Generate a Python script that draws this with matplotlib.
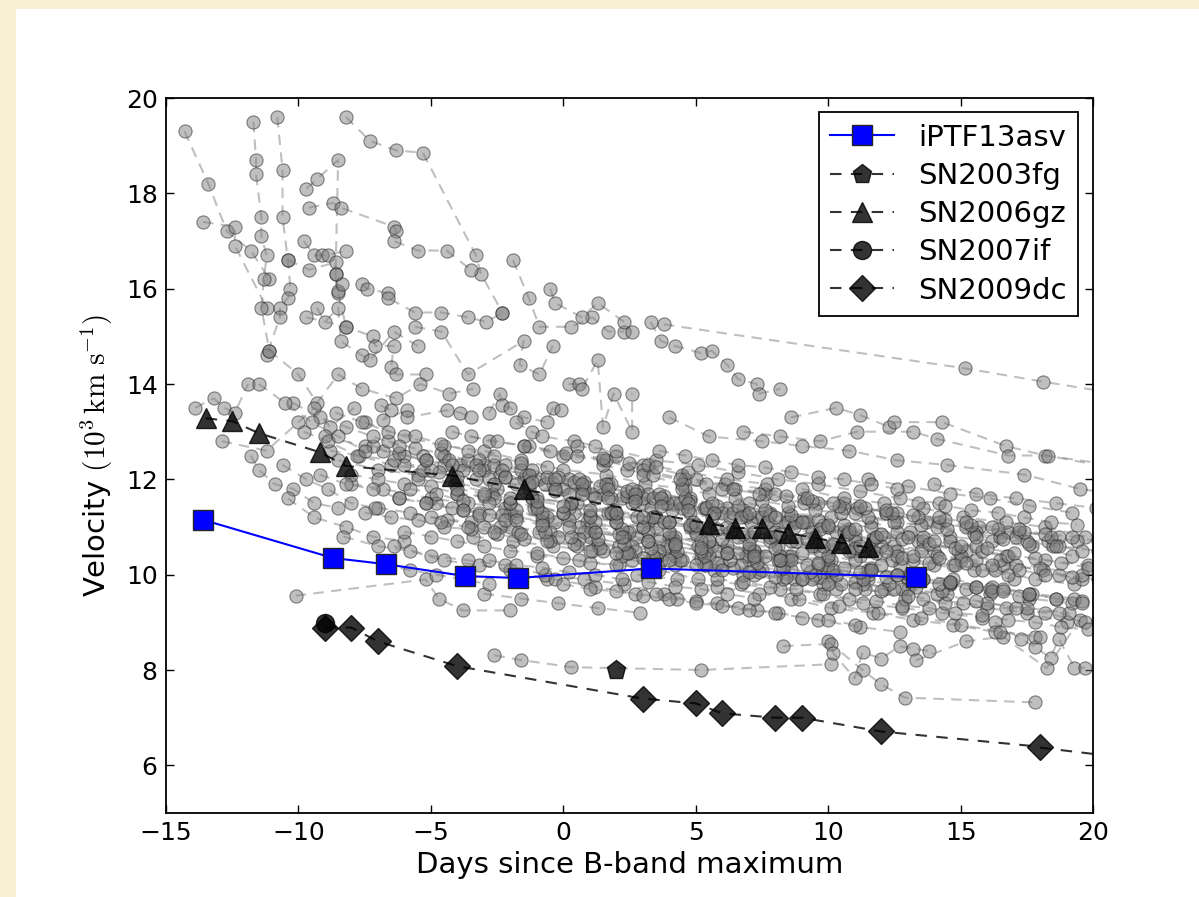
import numpy as np
import matplotlib
matplotlib.use("Agg")
import matplotlib.pyplot as plt
from matplotlib.patches import Rectangle

plt.rcParams['font.family'] = ['DejaVu Sans']
plt.rcParams['mathtext.fontset'] = 'cm'

# ---------------- highlighted objects ----------------
ptf_days = [-13.6, -8.7, -6.7, -3.7, -1.7, 3.3, 13.3]
ptf_vel = [11.15, 10.35, 10.22, 9.97, 9.93, 10.13, 9.95]

fg03_days = [2.0]
fg03_vel = [8.0]

gz06_days = [-13.5, -12.5, -11.5, -9.2, -8.2, -4.2, -1.5, 5.5, 6.5, 7.5, 8.5, 9.5, 10.5, 11.5]
gz06_vel = [13.28, 13.22, 12.97, 12.57, 12.28, 12.08, 11.79, 11.07, 10.98, 10.98, 10.87, 10.77, 10.67, 10.57]

if07_days = [-9.0]
if07_vel = [8.98]

dc09_days = [-9.0, -8.0, -7.0, -4.0, 3.0, 5.0, 6.0, 8.0, 9.0, 12.0, 18.0]
dc09_vel = [8.89, 8.89, 8.60, 8.08, 7.40, 7.30, 7.09, 7.00, 7.00, 6.71, 6.39]

# ---------------- comparison sample (grey) ----------------
gray_days = [
    [-14.3, -13.4, -12.7, -11.8, -11.1],
    [-13.6, -12.4, -12.4, -11.2],
    [-11.7, -11.6, -11.6, -11.4, -11.4, -11.2, -11.3, -11.4, -11.1],
    [-10.8, -10.6, -10.6, -10.4, -10.3, -10.4, -10.7, -10.7, -11.2],
    [-8.2, -7.3, -6.3, -5.3, -3.3, -3.1, -2.3],
    [-9.7, -9.3, -8.5, -8.6, -8.5, -8.2],
    [-9.6, -8.7, -8.4, -6.4, -6.3, -6.4, -5.5, -4.4, -3.5],
    [-1.9, -1.3, -0.9, 0.3, 1.1, 1.7, 2.3],
    [-0.5, -0.3, 0.7, 1.3, 2.3, 2.6],
    [3.3, 3.7, 4.2, 5.2, 5.6, 6.2, 6.6, 7.3, 7.4, 8.2],
    [3.8, 15.15, 18.1, 22.0],
    [-9.8, -9.4, -9.1, -8.9, -8.2],
    [-10.4, -9.6, -8.6, -8.6, -8.5, -8.35],
    [-7.6, -7.4, -6.6, -6.6, -5.6, -4.6, -3.6, -2.9, -2.3],
    [-9.3, -9.0, -8.5, -8.4, -7.6, -7.3, -6.4, -5.5],
    [-9.7, -8.2, -7.2, -7.1, -6.4, -6.5, -6.3, -5.2],
    [-5.6, -4.6, -3.6, -1.5, -1.65, -0.9, -0.4],
    [-11.1, -10.0, -9.3, -8.5, -7.6, -6.3, -5.4, -4.3, -3.4],
    [-13.9, -13.2, -12.8, -12.4, -11.9],
    [-12.9, -11.2, -10.0, -9.4, -8.8, -7.9],
    [-6.9, -6.5, -6.8, -5.9, -5.9, -4.4, -3.9, -3.5],
    [-2.8, -2.4, -2.3, -2.0, -1.5, -0.6, -0.4, -0.1],
    [0.2, 0.6, 0.7, 1.3, 1.5, 1.9, 2.6, 2.6],
    [-1.8, -1.2, -0.8, 0.4, 1.2, 2.0, 3.0, 4.5],
    [8.6, 10.3, 11.2, 12.3, 12.5, 14.3, 16.7, 18.2, 22.0],
    [6.8, 8.2, 9.7, 11.1, 13.2, 14.1, 16.8, 18.3, 22.0],
    [4.0, 5.5, 7.5, 9.0, 10.8, 12.6, 14.5, 17.4, 19.5, 22.0],
    [-10.1, -5.2, -4.7, -3.8, -2.0],
    [-2.6, -1.6, 0.3, 5.2, 10.1],
    [10.0, 11.3, 12.0, 12.9, 17.8],
    [8.3, 10.1, 10.2, 11.0, 11.3, 12.0, 12.7, 13.2, 13.8],
    [16.3, 17.3, 17.8, 18.4, 18.7, 19.3, 19.7],
    [13.3, 15.2, 16.6, 18.25, 19.5],
    [-9.0, -7.5, -6.0, -4.5, -3.0, -1.5, 0.0, 1.5, 3.0],
    [-8.5, -7.0, -5.5, -4.0, -2.5, -1.0, 0.5, 2.0, 3.5, 5.0],
    [-8.0, -6.8, -5.0, -3.6, -2.2, -0.8, 0.9, 2.4, 4.1, 5.6, 7.2],
    [-7.5, -6.0, -4.5, -3.0, -1.6, 0.0, 1.6, 3.1, 4.6],
    [-6.8, -5.2, -3.9, -2.4, -0.9, 0.7, 2.2, 3.8, 5.3, 6.9, 8.4],
    [-6.2, -4.8, -3.2, -1.8, -0.3, 1.2, 2.8, 4.2, 5.8, 7.3],
    [-5.5, -4.1, -2.7, -1.2, 0.3, 1.8, 3.4, 4.9, 6.4, 8.0, 9.5],
    [-5.0, -3.5, -2.0, -0.5, 1.0, 2.6, 4.0, 5.5, 7.0, 8.6, 10.1, 11.5],
    [-4.5, -3.0, -1.4, 0.2, 1.7, 3.2, 4.8, 6.2, 7.8, 9.2],
    [-4.0, -2.6, -1.1, 0.4, 2.0, 3.5, 5.0, 6.6, 8.1, 9.7, 11.2, 12.7],
    [-3.4, -1.9, -0.4, 1.1, 2.6, 4.2, 5.7, 7.2, 8.7, 10.3],
    [-2.8, -1.3, 0.2, 1.8, 3.3, 4.8, 6.3, 7.9, 9.4, 11.0, 12.5, 14.0],
    [-2.0, -0.6, 1.0, 2.5, 4.0, 5.5, 7.0, 8.5, 10.0, 11.6, 13.1],
    [-1.5, 0.0, 1.5, 3.0, 4.6, 6.1, 7.6, 9.1, 10.6, 12.2],
    [-1.0, 0.6, 2.1, 3.6, 5.1, 6.7, 8.2, 9.7, 11.3, 12.8, 14.3, 15.8],
    [-0.4, 1.1, 2.7, 4.2, 5.7, 7.3, 8.8, 10.3, 11.8, 13.4, 14.9],
    [0.2, 1.7, 3.2, 4.8, 6.3, 7.8, 9.4, 10.9, 12.4, 14.0, 15.5, 17.0],
    [0.8, 2.3, 3.9, 5.4, 6.9, 8.5, 10.0, 11.5, 13.0, 14.6, 16.1],
    [1.5, 3.0, 4.5, 6.0, 7.6, 9.1, 10.6, 12.2, 13.7, 15.2, 16.8, 18.3],
    [2.2, 3.7, 5.3, 6.8, 8.3, 9.8, 11.4, 12.9, 14.4, 16.0, 17.5, 19.0],
    [3.0, 4.5, 6.0, 7.5, 9.1, 10.6, 12.1, 13.6, 15.2, 16.7, 18.2, 19.8],
    [4.0, 5.5, 7.1, 8.6, 10.1, 11.7, 13.2, 14.7, 16.3, 17.8, 19.3],
    [5.0, 6.5, 8.0, 9.6, 11.1, 12.6, 14.2, 15.7, 17.2, 18.7],
    [6.0, 7.5, 9.0, 10.5, 12.1, 13.6, 15.1, 16.7, 18.2, 19.7],
    [7.0, 8.5, 10.1, 11.6, 13.1, 14.6, 16.2, 17.7, 19.2],
    [8.0, 9.5, 11.0, 12.6, 14.1, 15.6, 17.1, 18.7, 20.2],
    [9.0, 10.6, 12.1, 13.6, 15.1, 16.7, 18.2, 19.7],
    [10.0, 11.5, 13.0, 14.6, 16.1, 17.6, 19.2],
    [11.0, 12.6, 14.1, 15.6, 17.1, 18.7, 20.2],
    [12.0, 13.5, 15.0, 16.6, 18.1, 19.6],
    [13.0, 14.5, 16.0, 17.5, 19.1],
    [14.0, 15.6, 17.1, 18.6, 20.1],
    [-7.0, -5.8, -4.4, -3.0, -1.7, -0.2, 1.3, 2.7, 4.2, 5.8],
    [-6.0, -4.7, -3.3, -1.8, -0.3, 1.2, 2.6, 4.1, 5.6, 7.1],
    [-5.2, -3.8, -2.3, -0.8, 0.6, 2.1, 3.6, 5.1, 6.6, 8.1, 9.6],
    [-3.8, -2.2, -0.7, 0.8, 2.4, 3.9, 5.4, 6.9, 8.5, 10.0],
    [-2.4, -0.9, 0.6, 2.1, 3.6, 5.2, 6.7, 8.2, 9.7, 11.3, 12.8],
    [-1.2, 0.3, 1.9, 3.4, 4.9, 6.4, 8.0, 9.5, 11.0, 12.6],
    [-8.8, -7.7, -6.5, -5.3, -4.0, -2.6],
    [-9.8, -8.9, -7.8, -6.4, -5.0],
    [-10.6, -9.7, -8.9, -8.0, -7.1],
    [-11.8, -11.5, -10.9, -10.2, -9.4, -8.5],
    [-10.4, -9.4, -8.2, -7.2, -6.0],
    [-8.3, -7.0, -5.8, -4.5, -3.2, -2.0, -0.6],
    [-6.4, -5.0, -3.6, -2.2, -0.7, 0.8, 2.3, 3.8],
    [-1.7, -0.3, 1.2, 2.7, 4.3, 5.8, 7.3],
    [3.5, 5.0, 6.6, 8.1, 9.6, 11.2, 12.7],
    [8.6, 10.1, 11.7, 13.2, 14.7, 16.3, 17.8],
    [-4.2, -2.8, -1.3, 0.1, 1.6, 3.2, 4.7, 6.2, 7.7],
    [0.5, 2.0, 3.5, 5.1, 6.6, 8.1, 9.6, 11.2, 12.7, 14.2],
    [2.8, 4.3, 5.8, 7.4, 8.9, 10.4, 11.9, 13.5, 15.0, 16.5, 18.0],
    [5.5, 7.0, 8.6, 10.1, 11.6, 13.1, 14.7, 16.2, 17.7, 19.3],
    [9.5, 11.0, 12.5, 14.1, 15.6, 17.1, 18.7, 20.2],
    [11.5, 13.0, 14.6, 16.1, 17.6, 19.2],
    [15.0, 16.5, 18.0, 19.6],
    [-3.0, -1.6, -0.2, 1.3, 2.9],
    # densely sampled objects
    [-8, -7, -6, -5, -4, -3, -2, -1, 0, 1, 2, 3],
    [-7.5, -6.5, -5.5, -4.5, -3.5, -2.5, -1.5, -0.5, 0.5, 1.5, 2.5, 3.5, 4.5],
    [-6.6, -5.6, -4.6, -3.6, -2.6, -1.6, -0.6, 0.4, 1.4, 2.4, 3.4, 4.4, 5.4, 6.4],
    [-5.8, -4.8, -3.8, -2.8, -1.8, -0.8, 0.2, 1.2, 2.2, 3.2, 4.2, 5.2, 6.2, 7.2, 8.2],
    [-4.6, -3.6, -2.6, -1.6, -0.6, 0.4, 1.4, 2.4, 3.4, 4.4, 5.4, 6.4, 7.4, 8.4, 9.4],
    [-3.2, -2.2, -1.2, -0.2, 0.8, 1.8, 2.8, 3.8, 4.8, 5.8, 6.8, 7.8, 8.8, 9.8, 10.8],
    [-2.0, -1.0, 0.0, 1.0, 2.0, 3.0, 4.0, 5.0, 6.0, 7.0, 8.0, 9.0, 10.0, 11.0, 12.0],
    [-0.7, 0.3, 1.3, 2.3, 3.3, 4.3, 5.3, 6.3, 7.3, 8.3, 9.3, 10.3, 11.3, 12.3, 13.3, 14.3],
    [0.6, 1.6, 2.6, 3.6, 4.6, 5.6, 6.6, 7.6, 8.6, 9.6, 10.6, 11.6, 12.6, 13.6, 14.6, 15.6],
    [1.8, 2.8, 3.8, 4.8, 5.8, 6.8, 7.8, 8.8, 9.8, 10.8, 11.8, 12.8, 13.8, 14.8, 15.8, 16.8],
    [3.2, 4.2, 5.2, 6.2, 7.2, 8.2, 9.2, 10.2, 11.2, 12.2, 13.2, 14.2, 15.2, 16.2, 17.2],
    [4.5, 5.5, 6.5, 7.5, 8.5, 9.5, 10.5, 11.5, 12.5, 13.5, 14.5, 15.5, 16.5, 17.5, 18.5],
    [6.2, 7.2, 8.2, 9.2, 10.2, 11.2, 12.2, 13.2, 14.2, 15.2, 16.2, 17.2, 18.2, 19.2],
    [7.6, 8.6, 9.6, 10.6, 11.6, 12.6, 13.6, 14.6, 15.6, 16.6, 17.6, 18.6, 19.6],
    [-9.2, -8.2, -7.2, -6.2, -5.2, -4.2, -3.2, -2.2],
    [-8.6, -7.6, -6.6, -5.6, -4.6, -3.6, -2.6, -1.6, -0.6],
    [-5.3, -4.3, -3.3, -2.3, -1.3, -0.3, 0.7, 1.7, 2.7, 3.7, 4.7],
    [-3.8, -2.8, -1.8, -0.8, 0.2, 1.2, 2.2, 3.2, 4.2, 5.2, 6.2, 7.2, 8.2],
    [-1.3, -0.3, 0.7, 1.7, 2.7, 3.7, 4.7, 5.7, 6.7, 7.7, 8.7, 9.7, 10.7, 11.7],
    [2.4, 3.4, 4.4, 5.4, 6.4, 7.4, 8.4, 9.4, 10.4, 11.4, 12.4, 13.4, 14.4, 15.4, 16.4, 17.4, 18.4, 19.4],
    [5.8, 6.8, 7.8, 8.8, 9.8, 10.8, 11.8, 12.8, 13.8, 14.8, 15.8, 16.8, 17.8, 18.8, 19.8],
    [9.2, 10.2, 11.2, 12.2, 13.2, 14.2, 15.2, 16.2, 17.2, 18.2, 19.2, 20.2],
    [10.8, 11.8, 12.8, 13.8, 14.8, 15.8, 16.8, 17.8, 18.8, 19.8],
    [12.6, 13.6, 14.6, 15.6, 16.6, 17.6, 18.6, 19.6],
    [-6.0, -5.0, -4.0, -3.0, -2.0, -1.0, 0.0, 1.0, 2.0],
    [-2.8, -1.8, -0.8, 0.2, 1.2, 2.2, 3.2, 4.2, 5.2, 6.2, 7.2],
    [0.0, 1.0, 2.0, 3.0, 4.0, 5.0, 6.0, 7.0, 8.0, 9.0, 10.0, 11.0],
    [-7.2, -6.2, -5.2, -4.2, -3.2, -2.2, -1.2],
    [-10.2, -9.2, -8.2, -7.2, -6.2],
    [-11.5, -10.5, -9.5, -8.5, -7.5],
    [-3.5, -2.5, -1.5, -0.5, 0.5, 1.5, 2.5, 3.5],
    [3.6, 4.6, 5.6, 6.6, 7.6, 8.6, 9.6, 10.6, 11.6, 12.6],
    [13.4, 14.4, 15.4, 16.4, 17.4, 18.4, 19.4],
    [15.6, 16.6, 17.6, 18.6, 19.6],
    [-4.0, -3.0, -2.0, -1.0, 0.0, 1.0, 2.0, 3.0, 4.0, 5.0],
    [1.0, 2.0, 3.0, 4.0, 5.0, 6.0, 7.0, 8.0, 9.0, 10.0, 11.0, 12.0, 13.0],
    [7.0, 8.0, 9.0, 10.0, 11.0, 12.0, 13.0, 14.0, 15.0, 16.0, 17.0],
    [-6.8, -5.8, -4.8, -3.8, -2.8],
]
gray_vel = [
    [19.3, 18.2, 17.2, 16.8, 16.2],
    [17.4, 17.3, 16.9, 15.6],
    [19.5, 18.7, 18.4, 17.5, 17.1, 16.7, 16.2, 15.6, 14.7],
    [19.6, 18.5, 17.5, 16.6, 16.0, 15.8, 15.6, 15.4, 14.6],
    [19.6, 19.1, 18.9, 18.85, 16.7, 16.3, 15.5],
    [18.1, 18.3, 18.7, 16.3, 15.9, 15.2],
    [17.7, 17.8, 17.7, 17.3, 17.2, 17.0, 16.8, 16.8, 16.4],
    [16.6, 15.8, 15.2, 15.2, 15.4, 15.1, 15.1],
    [16.0, 15.7, 15.4, 15.7, 15.3, 15.1],
    [15.3, 14.9, 14.8, 14.65, 14.7, 14.4, 14.1, 14.0, 13.8, 13.9],
    [15.25, 14.33, 14.05, 13.7],
    [17.0, 16.7, 16.7, 16.7, 16.8],
    [16.6, 16.4, 16.55, 16.3, 15.95, 16.1],
    [16.1, 16.0, 15.9, 15.8, 15.5, 15.5, 15.4, 15.3, 15.5],
    [15.6, 15.3, 15.6, 14.9, 14.6, 14.5, 15.1, 14.8],
    [15.4, 15.2, 15.0, 14.8, 14.8, 14.35, 14.2, 14.2],
    [15.2, 15.1, 14.2, 14.9, 14.4, 14.2, 14.8],
    [14.7, 14.2, 13.6, 14.2, 13.9, 13.7, 14.0, 13.8, 13.9],
    [13.5, 13.7, 13.5, 13.4, 14.0],
    [12.8, 12.6, 13.2, 13.5, 13.1, 13.5],
    [13.55, 13.45, 13.25, 13.45, 13.3, 13.45, 13.4, 13.3],
    [13.4, 13.8, 13.55, 13.5, 13.3, 13.2, 13.5, 13.45],
    [14.0, 14.0, 13.9, 14.5, 13.1, 13.8, 13.0, 13.8],
    [13.2, 13.0, 12.9, 12.8, 12.7, 12.5, 12.3, 12.1],
    [13.3, 13.5, 13.35, 13.1, 13.2, 13.2, 12.7, 12.5, 12.2],
    [13.0, 12.9, 12.8, 13.0, 13.0, 12.85, 12.5, 12.5, 12.1],
    [13.3, 12.9, 12.8, 12.7, 12.6, 12.4, 12.3, 12.1, 11.8, 11.6],
    [9.56, 9.9, 9.5, 9.25, 9.25],
    [8.31, 8.21, 8.06, 8.0, 8.12],
    [8.6, 8.0, 7.7, 7.42, 7.32],
    [8.5, 8.55, 8.35, 7.83, 8.37, 8.24, 8.5, 8.45, 8.4],
    [9.0, 8.64, 8.49, 8.25, 8.66, 8.05, 8.05],
    [8.2, 8.6, 8.7, 8.04, 9.05],
    [12.9, 12.7, 12.5, 12.3, 12.2, 12.0, 11.8, 11.7, 11.5],
    [12.4, 12.2, 12.1, 11.9, 11.8, 11.6, 11.5, 11.3, 11.2, 11.0],
    [11.9, 11.8, 11.6, 11.5, 11.4, 11.2, 11.1, 10.9, 10.8, 10.6, 10.5],
    [13.2, 12.9, 12.7, 12.6, 12.4, 12.2, 12.1, 11.9, 11.8],
    [12.6, 12.4, 12.3, 12.1, 12.0, 11.8, 11.6, 11.5, 11.4, 11.2, 11.1],
    [11.6, 11.5, 11.3, 11.2, 11.1, 10.9, 10.8, 10.7, 10.5, 10.4],
    [12.0, 11.9, 11.7, 11.6, 11.5, 11.3, 11.2, 11.0, 10.9, 10.8, 10.6],
    [11.2, 11.1, 11.0, 10.9, 10.8, 10.6, 10.5, 10.4, 10.3, 10.1, 10.0, 9.9],
    [12.5, 12.3, 12.1, 12.0, 11.9, 11.7, 11.6, 11.4, 11.3, 11.1],
    [11.7, 11.6, 11.4, 11.3, 11.2, 11.0, 10.9, 10.8, 10.6, 10.5, 10.4, 10.2],
    [10.8, 10.7, 10.6, 10.5, 10.3, 10.2, 10.1, 10.0, 9.9, 9.7],
    [12.0, 11.8, 11.7, 11.6, 11.4, 11.3, 11.2, 11.0, 10.9, 10.8, 10.6, 10.5],
    [11.3, 11.2, 11.0, 10.9, 10.8, 10.7, 10.5, 10.4, 10.3, 10.1, 10.0],
    [12.7, 12.5, 12.4, 12.2, 12.0, 11.9, 11.8, 11.6, 11.5, 11.3],
    [10.4, 10.3, 10.2, 10.1, 9.9, 9.8, 9.7, 9.6, 9.4, 9.3, 9.2, 9.1],
    [11.9, 11.7, 11.6, 11.5, 11.3, 11.2, 11.1, 10.9, 10.8, 10.7, 10.5],
    [11.4, 11.3, 11.1, 11.0, 10.9, 10.7, 10.6, 10.5, 10.3, 10.2, 10.1, 9.9],
    [10.9, 10.8, 10.6, 10.5, 10.4, 10.3, 10.1, 10.0, 9.9, 9.8, 9.6],
    [12.3, 12.1, 11.9, 11.8, 11.7, 11.5, 11.4, 11.3, 11.1, 11.0, 10.9, 10.7],
    [10.4, 10.3, 10.2, 10.0, 9.9, 9.8, 9.7, 9.5, 9.4, 9.3, 9.2, 9.0],
    [11.6, 11.4, 11.3, 11.2, 11.1, 10.9, 10.8, 10.7, 10.5, 10.4, 10.3, 10.2],
    [11.1, 11.0, 10.8, 10.7, 10.6, 10.5, 10.3, 10.2, 10.1, 9.9, 9.8],
    [12.0, 11.8, 11.7, 11.5, 11.4, 11.3, 11.1, 11.0, 10.9, 10.8],
    [10.2, 10.1, 9.9, 9.8, 9.7, 9.5, 9.4, 9.3, 9.2, 9.0],
    [11.5, 11.3, 11.2, 11.1, 10.9, 10.8, 10.7, 10.6, 10.4],
    [10.9, 10.8, 10.7, 10.5, 10.4, 10.3, 10.2, 10.0, 9.9],
    [11.8, 11.6, 11.5, 11.4, 11.2, 11.1, 11.0, 10.8],
    [10.2, 10.1, 9.9, 9.8, 9.7, 9.5, 9.4],
    [11.3, 11.1, 11.0, 10.9, 10.8, 10.6, 10.5],
    [10.6, 10.5, 10.3, 10.2, 10.1, 9.9],
    [9.7, 9.6, 9.4, 9.3, 9.2],
    [11.9, 11.7, 11.6, 11.5, 11.4],
    [11.4, 11.3, 11.15, 11.0, 10.9, 10.8, 10.65, 10.5, 10.4, 10.25],
    [12.3, 12.15, 12.0, 11.9, 11.75, 11.6, 11.5, 11.35, 11.2, 11.1],
    [11.5, 11.35, 11.25, 11.1, 11.0, 10.85, 10.7, 10.6, 10.45, 10.3, 10.2],
    [12.2, 12.05, 11.9, 11.8, 11.65, 11.5, 11.4, 11.25, 11.1, 11.0],
    [11.0, 10.9, 10.75, 10.6, 10.5, 10.35, 10.2, 10.1, 9.95, 9.8, 9.7],
    [11.6, 11.5, 11.35, 11.2, 11.1, 10.95, 10.8, 10.7, 10.55, 10.4],
    [12.6, 12.5, 12.3, 12.2, 12.05, 11.9],
    [13.0, 12.8, 12.5, 12.4, 12.2],
    [12.3, 12.0, 11.8, 11.5, 11.4],
    [12.5, 12.2, 11.9, 11.8, 11.5, 11.4],
    [11.6, 11.2, 11.0, 10.8, 10.7],
    [10.8, 10.6, 10.5, 10.3, 10.2, 10.1, 9.9],
    [10.6, 10.4, 10.3, 10.2, 10.0, 9.9, 9.8, 9.6],
    [10.0, 9.9, 9.75, 9.6, 9.5, 9.4, 9.25],
    [9.6, 9.45, 9.3, 9.2, 9.05, 8.9, 8.8],
    [9.5, 9.3, 9.2, 9.05, 8.95, 8.8, 8.7],
    [13.0, 12.8, 12.7, 12.55, 12.4, 12.3, 12.15, 12.0, 11.9],
    [12.7, 12.6, 12.4, 12.3, 12.15, 12.0, 11.9, 11.75, 11.6, 11.5],
    [10.0, 9.9, 9.75, 9.6, 9.5, 9.35, 9.2, 9.1, 8.95, 8.8, 8.7],
    [10.7, 10.55, 10.4, 10.3, 10.15, 10.0, 9.9, 9.75, 9.6, 9.5],
    [10.0, 9.85, 9.7, 9.6, 9.45, 9.3, 9.2, 9.05],
    [12.0, 11.85, 11.7, 11.6, 11.45, 11.3],
    [10.4, 10.3, 10.15, 10.0],
    [9.6, 9.5, 9.4, 9.3, 9.2],
    # densely sampled objects
    [12.1, 12.0, 11.9, 11.85, 11.7, 11.65, 11.5, 11.45, 11.3, 11.25, 11.1, 11.0],
    [11.3, 11.2, 11.15, 11.0, 10.95, 10.85, 10.75, 10.7, 10.6, 10.5, 10.45, 10.35, 10.3],
    [12.8, 12.65, 12.55, 12.4, 12.3, 12.2, 12.05, 11.95, 11.85, 11.75, 11.6, 11.5, 11.4, 11.3],
    [11.8, 11.7, 11.55, 11.5, 11.35, 11.3, 11.15, 11.1, 10.95, 10.9, 10.8, 10.7, 10.6, 10.5, 10.4],
    [11.1, 11.0, 10.9, 10.85, 10.7, 10.65, 10.55, 10.45, 10.4, 10.3, 10.2, 10.15, 10.05, 9.95, 9.9],
    [12.4, 12.3, 12.2, 12.05, 11.95, 11.9, 11.75, 11.65, 11.55, 11.45, 11.35, 11.25, 11.15, 11.05, 10.95],
    [11.5, 11.4, 11.3, 11.2, 11.1, 11.0, 10.9, 10.85, 10.75, 10.65, 10.55, 10.45, 10.4, 10.3, 10.2],
    [10.9, 10.8, 10.75, 10.65, 10.55, 10.5, 10.4, 10.3, 10.25, 10.15, 10.05, 10.0, 9.9, 9.8, 9.75, 9.65],
    [12.0, 11.9, 11.8, 11.7, 11.6, 11.5, 11.45, 11.35, 11.25, 11.15, 11.05, 11.0, 10.9, 10.8, 10.7, 10.6],
    [11.3, 11.2, 11.1, 11.05, 10.95, 10.85, 10.8, 10.7, 10.6, 10.5, 10.45, 10.35, 10.25, 10.2, 10.1, 10.0],
    [10.7, 10.6, 10.5, 10.45, 10.35, 10.3, 10.2, 10.1, 10.05, 9.95, 9.9, 9.8, 9.7, 9.65, 9.55],
    [11.8, 11.7, 11.6, 11.55, 11.45, 11.35, 11.3, 11.2, 11.1, 11.05, 10.95, 10.85, 10.8, 10.7, 10.6],
    [11.0, 10.9, 10.85, 10.75, 10.65, 10.6, 10.5, 10.4, 10.35, 10.25, 10.2, 10.1, 10.0, 9.95],
    [10.4, 10.3, 10.25, 10.15, 10.1, 10.0, 9.9, 9.85, 9.75, 9.7, 9.6, 9.5, 9.45],
    [12.1, 11.9, 11.8, 11.6, 11.5, 11.4, 11.25, 11.15],
    [13.4, 13.2, 13.0, 12.9, 12.75, 12.6, 12.5, 12.35, 12.25],
    [12.5, 12.4, 12.3, 12.2, 12.1, 12.0, 11.9, 11.8, 11.7, 11.6, 11.5],
    [11.35, 11.25, 11.15, 11.05, 11.0, 10.9, 10.8, 10.7, 10.65, 10.55, 10.45, 10.4, 10.3],
    [11.9, 11.8, 11.7, 11.6, 11.55, 11.45, 11.35, 11.3, 11.2, 11.1, 11.0, 10.95, 10.85, 10.75],
    [12.2, 12.1, 12.0, 11.9, 11.8, 11.7, 11.65, 11.55, 11.45, 11.4, 11.3, 11.2, 11.15, 11.05, 10.95, 10.9, 10.8, 10.7],
    [9.9, 9.85, 9.75, 9.7, 9.6, 9.5, 9.45, 9.35, 9.3, 9.2, 9.15, 9.05, 9.0, 8.9, 8.85],
    [11.6, 11.5, 11.45, 11.35, 11.25, 11.2, 11.1, 11.0, 10.95, 10.85, 10.8, 10.7],
    [10.9, 10.8, 10.75, 10.65, 10.55, 10.5, 10.4, 10.35, 10.25, 10.15],
    [10.0, 9.9, 9.85, 9.75, 9.65, 9.6, 9.5, 9.4],
    [10.9, 10.8, 10.7, 10.6, 10.5, 10.45, 10.35, 10.25, 10.2],
    [10.3, 10.2, 10.15, 10.05, 10.0, 9.9, 9.85, 9.75, 9.7, 9.6, 9.5],
    [9.8, 9.7, 9.65, 9.55, 9.5, 9.4, 9.35, 9.25, 9.2, 9.1, 9.05, 8.95],
    [12.7, 12.55, 12.4, 12.3, 12.2, 12.05, 11.95],
    [13.6, 13.3, 13.1, 12.9, 12.7],
    [14.0, 13.6, 13.2, 12.9, 12.6],
    [12.9, 12.8, 12.7, 12.6, 12.5, 12.45, 12.35, 12.25],
    [12.6, 12.5, 12.4, 12.3, 12.25, 12.15, 12.05, 12.0, 11.9, 11.8],
    [11.5, 11.45, 11.35, 11.3, 11.2, 11.1, 11.05],
    [10.8, 10.75, 10.65, 10.6, 10.5],
    [11.8, 11.7, 11.6, 11.55, 11.45, 11.35, 11.3, 11.2, 11.1, 11.05],
    [10.5, 10.45, 10.35, 10.3, 10.2, 10.1, 10.05, 9.95, 9.9, 9.8, 9.7, 9.65, 9.55],
    [11.3, 11.2, 11.1, 11.05, 10.95, 10.85, 10.8, 10.7, 10.6, 10.55, 10.45],
    [10.2, 10.1, 10.0, 9.9, 9.8],
]

x_ticks = [-15, -10, -5, 0, 5, 10, 15, 20]
y_ticks = [6, 8, 10, 12, 14, 16, 18, 20]

# ---------------- figure ----------------
W, H = 1199, 897
fig = plt.figure(figsize=(W / 100, H / 100), dpi=100, facecolor='white')
cream = '#F9EFD5'
fig.add_artist(Rectangle((0, 0), 16 / W, 1, transform=fig.transFigure,
                         facecolor=cream, edgecolor='none', zorder=-10))
fig.add_artist(Rectangle((0, 1 - 9 / H), 1, 9 / H, transform=fig.transFigure,
                         facecolor=cream, edgecolor='none', zorder=-10))

ax = fig.add_axes([166 / W, 1 - 813 / H, (1093 - 166) / W, (813 - 98) / H])

for d, v in zip(gray_days, gray_vel):
    ax.plot(d, v, linestyle='--', dashes=(5, 3.5), color='0.5', lw=1.5,
            marker='o', ms=9.5, mfc='0.5', mec='0.1', mew=0.8, alpha=0.5,
            zorder=2)

dk = dict(linestyle='--', dashes=(5.5, 4.5), color='k', lw=1.5, alpha=0.8)
ax.plot(gz06_days, gz06_vel, marker='^', ms=14, zorder=5, label='SN2006gz', **dk)
ax.plot(fg03_days, fg03_vel, marker='p', ms=14, zorder=5, label='SN2003fg', **dk)
# extension of the SN2009dc trend to the plot edge (linear fit of last epochs)
p = np.polyfit(dc09_days[-3:], dc09_vel[-3:], 1)
ax.plot([dc09_days[-1], 21], np.polyval(p, [dc09_days[-1], 21]), zorder=5, **dk)
ax.plot(dc09_days, dc09_vel, marker='D', ms=13, zorder=5, label='SN2009dc', **dk)
ax.plot(if07_days, if07_vel, marker='o', ms=13, zorder=6, label='SN2007if', **dk)
ax.plot(ptf_days, ptf_vel, linestyle='-', color='b', lw=1.5, marker='s',
        ms=15, mfc='b', mec='0.15', mew=1.0, zorder=8, label='iPTF13asv')

ax.set_xlim(-15, 20)
ax.set_ylim(5, 20)
ax.set_xticks(x_ticks)
ax.set_yticks(y_ticks)
ax.tick_params(direction='in', length=6, width=1, top=True, right=True,
               labelsize=18, pad=6)
for s in ax.spines.values():
    s.set_linewidth(1.3)

ax.set_xlabel('Days since B-band maximum', fontsize=21, labelpad=4)
ax.set_ylabel(r'Velocity $(10^3\,\mathrm{km\ s^{-1}})$', fontsize=21, labelpad=8)

handles, labels = ax.get_legend_handles_labels()
order = ['iPTF13asv', 'SN2003fg', 'SN2006gz', 'SN2007if', 'SN2009dc']
hmap = dict(zip(labels, handles))
leg = ax.legend([hmap[k] for k in order], order, loc='upper right',
                bbox_to_anchor=((1078 - 166) / 927, (813 - 112) / 715),
                borderaxespad=0, fontsize=21, numpoints=1, fancybox=False,
                framealpha=1, edgecolor='k', handlelength=2.2,
                handletextpad=0.8, labelspacing=0.35, borderpad=0.4)
leg.get_frame().set_linewidth(1.3)

fig.savefig('out.png', dpi=100, facecolor=fig.get_facecolor())
